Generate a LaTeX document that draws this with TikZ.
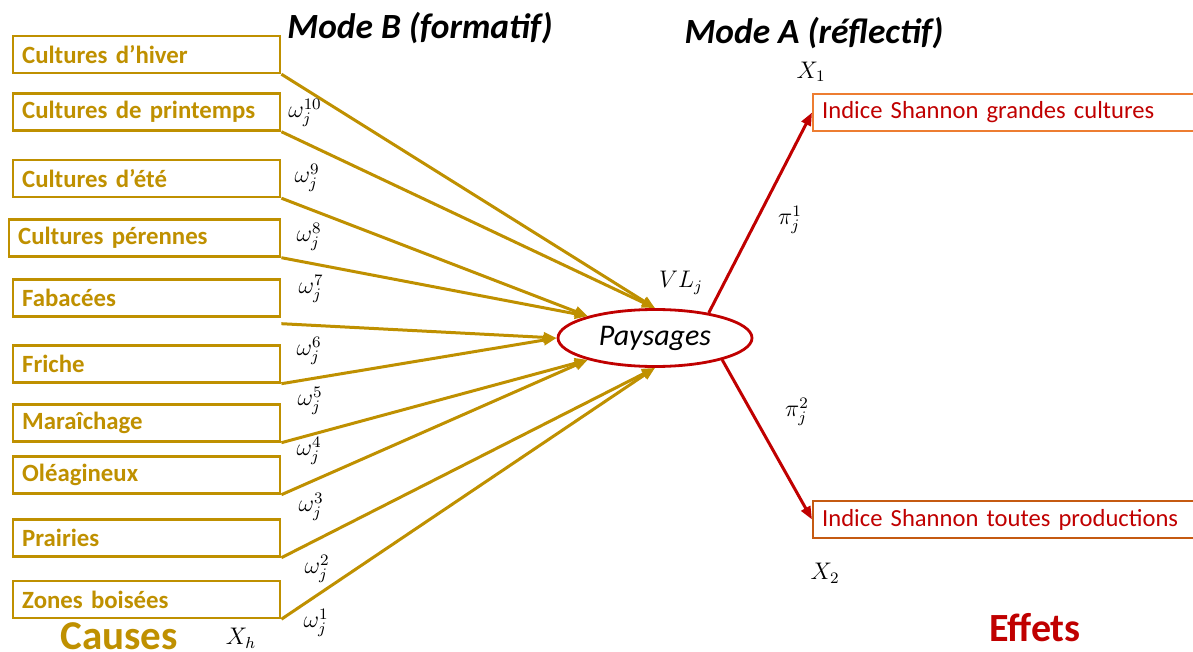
\documentclass[tikz,border=0pt]{standalone}
\usepackage{fontspec}
\setmainfont{Carlito}
\usepackage{xcolor}
\usetikzlibrary{shapes,shapes.geometric}
\usetikzlibrary{arrows.meta}
\usetikzlibrary{positioning}
\definecolor{gold}{HTML}{BF9000}
\definecolor{rouge}{HTML}{C00000}
\definecolor{orangeA}{HTML}{ED7D31}
\definecolor{orangeB}{HTML}{C55A11}

\begin{document}
\begin{tikzpicture}[x=0.5pt,y=-0.5pt]
\tikzset{cause/.style={rectangle,draw=gold,line width=1.2pt,anchor=west,text width=124.5pt,inner xsep=4.5pt,inner ysep=0pt,minimum height=18.5pt,align=left,text=gold,font=\fontsize{12.4}{15}\selectfont\bfseries}}
\tikzset{effet/.style={rectangle,line width=1.2pt,anchor=west,text width=200pt,inner xsep=4.5pt,inner ysep=0pt,minimum height=18.5pt,align=left,text=rouge,font=\fontsize{12.3}{15}\selectfont}}
\tikzset{poids/.style={inner sep=0.5pt,font=\fontsize{12}{14}\selectfont}}
\tikzset{lienB/.style={gold,line width=1.5pt,-{Triangle[length=6.5pt,width=5pt]}}}
\tikzset{lienA/.style={rouge,line width=1.5pt,-{Triangle[length=6.5pt,width=5pt]}}}
\useasboundingbox (0,0) rectangle (1193,652);
% titres
\node[font=\fontsize{17.7}{20}\selectfont\bfseries\itshape](mb) at (420,28){Mode B (formatif)};
\node[font=\fontsize{17.7}{20}\selectfont\bfseries\itshape](ma) at (814,33){Mode A (réflectif)};
% causes
\node[cause](a) at (12,54.5){Cultures d’hiver};
\node[cause](b) at (12,112){Cultures de printemps};
\node[cause](c) at (12,178.5){Cultures d’été};
\node[cause,text width=126.5pt](d) at (8,238){Cultures pérennes};
\node[cause](e) at (12,298){Fabacées};
\node[cause](f) at (12,364){Friche};
\node[cause](g) at (12,423){Maraîchage};
\node[cause](h) at (12,475){Oléagineux};
\node[cause](i) at (12,538){Prairies};
\node[cause](j) at (12,599.5){Zones boisées};
\node[inner sep=0pt,text=gold,font=\fontsize{20.5}{24}\selectfont\bfseries](causes) at (119,636){Causes};
\node[poids](xh) at (241,638){$X_h$};
% variable latente
\node[ellipse,draw=rouge,line width=1.4pt,minimum width=97pt,minimum height=28.5pt,inner sep=0pt,font=\fontsize{15}{18}\selectfont\itshape](pay) at (655,338){Paysages};
\node[poids](vl) at (681,283){$VL_j$};
% liens formatifs
\draw[lienB](a.south east) -- (pay.north);
\draw[lienB](b.south east) -- (pay.north);
\draw[lienB](c.south east) -- (pay.162);
\draw[lienB](d.south east) -- (pay.162);
\draw[lienB]([yshift=-3pt]e.south east) -- (pay.west);
\draw[lienB](f.south east) -- (pay.west);
\draw[lienB](g.south east) -- (pay.198);
\draw[lienB](h.south east) -- (pay.198);
\draw[lienB](i.south east) -- (pay.south);
\draw[lienB](j.south east) -- (pay.south);
% poids
\node[poids](w10) at (305,113){$\omega_j^{10}$};
\node[poids](w9) at (307,178){$\omega_j^{9}$};
\node[poids](w8) at (309,237){$\omega_j^{8}$};
\node[poids](w7) at (311,289){$\omega_j^{7}$};
\node[poids](w6) at (309,351){$\omega_j^{6}$};
\node[poids](w5) at (310,401){$\omega_j^{5}$};
\node[poids](w4) at (309,451){$\omega_j^{4}$};
\node[poids](w3) at (311,507){$\omega_j^{3}$};
\node[poids](w2) at (317,569){$\omega_j^{2}$};
\node[poids](w1) at (316,623){$\omega_j^{1}$};
% effets
\node[effet,draw=orangeA](s1) at (812,112.5){Indice Shannon grandes cultures};
\node[effet,draw=orangeB](s2) at (812,519.5){Indice Shannon toutes productions};
\node[poids](x1) at (811,72){$X_1$};
\node[poids](x2) at (825,573){$X_2$};
\draw[lienA](pay.25) -- (s1.west);
\draw[lienA](pay.-18) -- (s2.west);
\node[poids](p1) at (790,220){$\pi_j^{1}$};
\node[poids](p2) at (797,412){$\pi_j^{2}$};
\node[text=rouge,font=\fontsize{20}{24}\selectfont\bfseries](effets) at (1035,628){Effets};
\end{tikzpicture}
\end{document}
